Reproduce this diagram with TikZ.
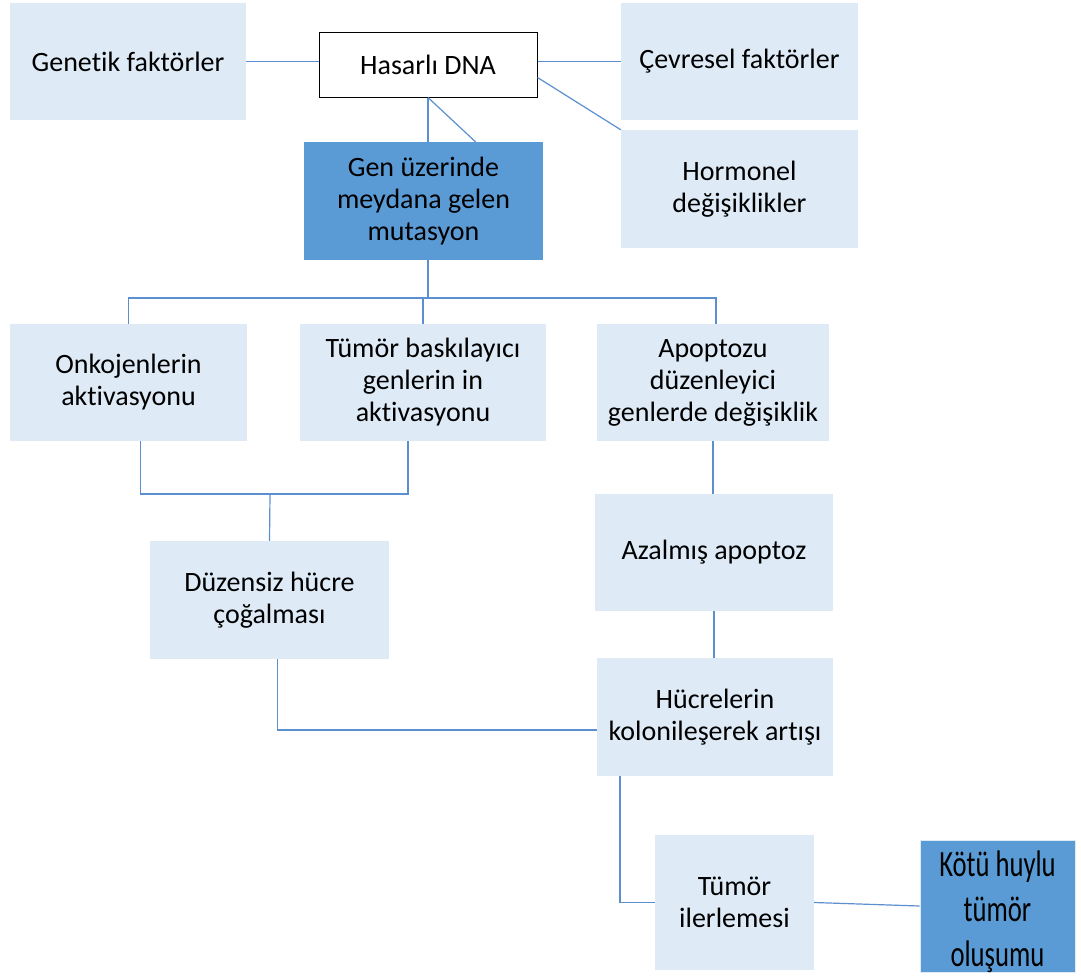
\documentclass[tikz,border=0pt]{standalone}
\usepackage{fontspec}
\setmainfont{Carlito}[Ligatures=NoCommon]
\newfontfamily\narrowfont[FakeStretch=0.72,Ligatures=NoCommon]{Carlito}
\usepackage{tikz}
\definecolor{boxlight}{HTML}{DEEBF7}
\definecolor{boxdark}{HTML}{5B9BD5}
\definecolor{linkblue}{HTML}{5B8FCF}

\begin{document}
\begin{tikzpicture} [x=1pt,y=-1pt,
    box/.style={fill=boxlight,inner sep=0pt,align=center,font=\fontsize{28}{32}\selectfont},
    darkbox/.style={box,fill=boxdark},
    link/.style={draw=linkblue,line width=1.2pt}]
                      \useasboundingbox (0,0) rectangle (1081,978); % page
                      \node[box,minimum width=236,minimum height=117] (gen) at (128,61.5) {Genetik faktörler};
                      \node[box,fill=white,draw=black,line width=1pt,minimum width=218,minimum height=65] (dna) at (428,64.5) {Hasarlı DNA};
                      \node[box,minimum width=237,minimum height=117] (cev) at (739.5,61.5) {Çevresel faktörler};
                      \node[box,minimum width=237,minimum height=118] (hor) at (739.5,189) {Hormonel\\değişiklikler};
                      \node[darkbox,minimum width=239,minimum height=118] (mut) at (423.5,201) {Gen üzerinde\\meydana gelen\\mutasyon};
                      \node[box,minimum width=237,minimum height=117] (onk) at (128.5,382.5) {Onkojenlerin\\aktivasyonu};
                      \node[box,minimum width=246,minimum height=117] (tsg) at (423,382.5) {Tümör baskılayıcı\\genlerin in\\aktivasyonu};
                      \node[box,minimum width=232,minimum height=117] (apo) at (713,382.5) {Apoptozu\\düzenleyici\\genlerde değişiklik};
                      \node[box,minimum width=239,minimum height=118] (duz) at (269.5,600) {Düzensiz hücre\\çoğalması};
                      \node[box,minimum width=238,minimum height=117] (aza) at (714,552.5) {Azalmış apoptoz};
                      \node[box,minimum width=236,minimum height=118] (hcr) at (715,717) {Hücrelerin\\kolonileşerek artışı};
                      \node[box,minimum width=159,minimum height=135] (tmr) at (734.5,902.5) {Tümör\\ilerlemesi};
                      \node[darkbox,draw=boxlight,line width=1pt,minimum width=155,minimum height=132,
                            label={[yshift=-6pt,align=center,font=\narrowfont\fontsize{37}{45}\selectfont]center:Kötü huylu\\tümör\\oluşumu}] (kot) at (997.5,906) {};
    \coordinate (bus) at (428,298); % branch under mutation
    \coordinate (join) at (270,494); % join over Düzensiz
                      \draw[link] (gen.east) -- (gen.east -| dna.west); % genetic
                      \draw[link] (cev.west -| dna.east) -- (cev.west); % environment
                      \draw[link] ([yshift=-13pt]dna.east) -- (hor.north west); % hormones
                      \draw[link] (dna.south) -- (dna.south |- mut.north);
                      \draw[link] (dna.south) -- ([xshift=52pt]mut.north);
                      \draw[link] (mut.south -| bus) -- (bus);
                      \draw[link] (onk.north) |- (bus) -| ([xshift=3pt]apo.north);
                      \draw[link] (tsg.north) -- (tsg.north |- bus);
                      \draw[link] ([xshift=12pt]onk.south) |- (join);
                      \draw[link] ([xshift=-15pt]tsg.south) |- (join);
                      \draw[link] (join) -- (duz.north);
                      \draw[link] (apo.south) -- (apo.south |- aza.north);
                      \draw[link] (aza.south) -- (aza.south |- hcr.north);
                      \draw[link] ([xshift=8pt]duz.south) |- ([yshift=-13pt]hcr.west);
                      \draw[link] ([xshift=-95pt]hcr.south) |- (tmr.west);
                      \draw[link] (tmr.east) -- (kot.west);
\end{tikzpicture}
\end{document}
